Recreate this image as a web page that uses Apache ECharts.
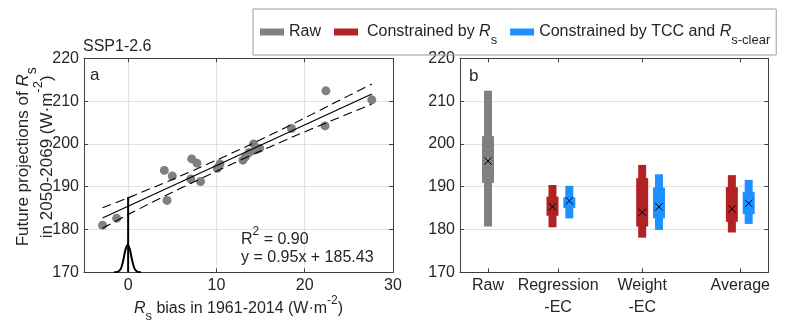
<!DOCTYPE html>
<html>
<head>
<meta charset="utf-8">
<script src="https://cdn.jsdelivr.net/npm/echarts@6/dist/echarts.min.js"></script>
<style>
  html, body { margin: 0; padding: 0; background: #fff; }
  #chart { width: 794px; height: 327px; }
</style>
</head>
<body>
<div id="chart"></div>
<script>
// ---------- Panel a: historical Rs bias vs. projected Rs (SSP1-2.6) ----------
const biasX = [-2.9, -1.3, 4.1, 4.4, 5.0, 7.1, 7.2, 7.8, 8.2, 10.1, 10.4, 13.0, 13.3, 13.7, 14.2, 14.5, 14.9, 18.5, 22.3, 22.4, 27.6];
const projY = [181.0, 182.6, 193.8, 186.8, 192.5, 191.8, 196.5, 195.5, 191.2, 194.3, 195.3, 196.2, 197.0, 198.0, 200.0, 198.7, 199.0, 203.6, 204.2, 212.4, 210.3];

// fitted regression
const fitSlope = 0.95;
const fitIntercept = 185.43;
const fitR2 = '0.90';

// confidence band of the fit
const bandX = [-2.9, 0, 5, 10, 14, 18.5, 23, 27.6];
const bandUpper = [185.1, 187.4, 191.7, 196.2, 200.0, 204.5, 209.2, 214.0];
const bandLower = [180.3, 183.5, 188.7, 193.6, 197.4, 201.5, 205.4, 209.3];

// observed-bias distribution (PDF drawn on the bottom axis)
const pdfX = [-1.6, -1.2, -0.9, -0.7, -0.5, -0.3, -0.05, 0.2, 0.4, 0.6, 0.8, 1.1, 1.45];
const pdfY = [170.0, 170.1, 170.6, 171.6, 173.3, 175.3, 176.4, 175.3, 173.3, 171.6, 170.6, 170.1, 170.0];
const obsX = 0;
const obsTop = 187.6;

const xTicksA = [0, 10, 20, 30];

// ---------- Panel b: raw vs. constrained projections ----------
const catPos = [1, 3.5, 6.5, 10];
const catNames = ['Raw', 'Regression\n-EC', 'Weight\n-EC', 'Average'];

// position, outer range, inner range and mean of each box
const rawX = [1.0];
const rawOuterLo = [180.7], rawOuterHi = [212.4];
const rawInnerLo = [190.9], rawInnerHi = [201.8];
const rawMean = [196.0];

const rsX = [3.3, 6.5, 9.7];
const rsOuterLo = [180.5, 178.1, 179.3], rsOuterHi = [190.4, 195.1, 192.7];
const rsInnerLo = [183.2, 180.7, 181.8], rsInnerHi = [187.7, 192.0, 189.9];
const rsMean = [185.3, 184.0, 184.8];

const tccX = [3.9, 7.1, 10.3];
const tccOuterLo = [182.6, 179.9, 181.3], tccOuterHi = [190.2, 192.9, 191.6];
const tccInnerLo = [185.0, 182.6, 183.6], tccInnerHi = [187.5, 189.8, 188.8];
const tccMean = [186.7, 185.3, 186.1];

const yTicksMin = 170, yTicksMax = 220, yStep = 10;

// ---------- styling ----------
const FONT = 'Liberation Sans';
const TXT = '#262626';
const AXIS = '#404040';
const GRID = '#e2e2e2';
const GRAY = '#808080';
const RED = '#b22222';
const BLUE = '#1e90ff';

// rich-text styles for plain, italic, subscript and superscript runs
function richSet(lh, size) {
  const fs = size || 16;
  const small = Math.round(fs * 0.8);
  const base = { fontFamily: FONT, color: TXT, lineHeight: lh, fontWeight: 'normal' };
  return {
    n:   Object.assign({ fontSize: fs }, base),
    np:  Object.assign({ fontSize: fs, padding: [0, 0, 0, 4] }, base),
    it:  Object.assign({ fontSize: fs, fontStyle: 'italic' }, base),
    sub: Object.assign({ fontSize: small, padding: [Math.round(fs * 1.05), 0, 0, 0] }, base),
    sup: Object.assign({ fontSize: small - 1, padding: [0, 0, Math.round(fs), 0] }, base)
  };
}

function zipRows(xs, a, b, c, d, e) {
  return xs.map((x, i) => [x, a[i], b[i], c[i], d[i], e[i]]);
}

function renderBox(params, api) {
  const x = api.value(0);
  const lo = api.coord([x, api.value(1)]);
  const hi = api.coord([x, api.value(2)]);
  const ilo = api.coord([x, api.value(3)]);
  const ihi = api.coord([x, api.value(4)]);
  const m = api.coord([x, api.value(5)]);
  const color = api.visual('color');
  const ow = 8, iw = 12, c = 3.7;
  return {
    type: 'group',
    children: [
      { type: 'rect', shape: { x: lo[0] - ow / 2, y: hi[1], width: ow, height: lo[1] - hi[1] }, style: { fill: color } },
      { type: 'rect', shape: { x: ilo[0] - iw / 2, y: ihi[1], width: iw, height: ilo[1] - ihi[1] }, style: { fill: color } },
      { type: 'line', shape: { x1: m[0] - c, y1: m[1] - c, x2: m[0] + c, y2: m[1] + c }, style: { stroke: '#000', lineWidth: 1 } },
      { type: 'line', shape: { x1: m[0] - c, y1: m[1] + c, x2: m[0] + c, y2: m[1] - c }, style: { stroke: '#000', lineWidth: 1 } }
    ]
  };
}

const tickStyle = { show: true, inside: true, length: 4, lineStyle: { color: AXIS, width: 1 } };
const lineStyleAxis = { show: true, onZero: false, lineStyle: { color: AXIS, width: 1 } };
const labelBase = { color: TXT, fontFamily: FONT, fontSize: 16 };

function yAxisPair(gridIndex, withVerticalName) {
  const left = {
    type: 'value', gridIndex, position: 'left',
    min: yTicksMin, max: yTicksMax, interval: yStep,
    axisLine: lineStyleAxis, axisTick: tickStyle,
    axisLabel: Object.assign({ margin: 5 }, labelBase),
    splitLine: { show: true, lineStyle: { color: GRID, width: 1 } }
  };
  if (withVerticalName) {
    left.name = '{n|Future projections of }{it|R}{sub|s}\n{n|in 2050-2069 (W·m}{sup|-2}{n|)}';
    left.nameLocation = 'middle';
    left.nameGap = 25;
    left.nameMoveOverlap = false;
    left.nameTextStyle = { rich: richSet(24, 17), fontFamily: FONT, fontSize: 17, color: TXT, padding: [0, 0, 0, 17] };
  }
  const right = {
    type: 'value', gridIndex, position: 'right',
    min: yTicksMin, max: yTicksMax, interval: yStep,
    axisLine: lineStyleAxis, axisTick: tickStyle,
    axisLabel: { show: false }, splitLine: { show: false }
  };
  return [left, right];
}

const slopeLabel = '{n|y = ' + fitSlope.toFixed(2) + 'x + ' + fitIntercept.toFixed(2) + '}';
const fitXs = [Math.min(...biasX), Math.max(...biasX)];
const plainTitle = { fontFamily: FONT, fontSize: 16, fontWeight: 'normal', color: TXT };

const option = {
  animation: false,
  backgroundColor: '#fff',
  textStyle: { fontFamily: FONT },
  title: [
    { text: 'SSP1-2.6', left: 83, top: 39, padding: 0, textStyle: plainTitle },
    { text: 'a', left: 90, top: 67, padding: 0, textStyle: Object.assign({}, plainTitle, { fontSize: 17 }) },
    { text: 'b', left: 469, top: 68, padding: 0, textStyle: Object.assign({}, plainTitle, { fontSize: 17 }) },
    { text: '{n|R}{sup|2}{n| = ' + fitR2 + '}\n' + slopeLabel, left: 241, top: 231, padding: 0,
      textStyle: Object.assign({ rich: richSet(18) }, plainTitle) }
  ],
  legend: {
    data: ['Raw', 'Constrained by Rs', 'Constrained by TCC and Rs-clear'],
    left: 253, top: 9,
    padding: [8, 6, 8, 7],
    itemGap: 13, itemWidth: 24, itemHeight: 7,
    icon: 'rect',
    borderColor: '#9a9a9a', borderWidth: 1,
    selectedMode: false,
    formatter: function (name) {
      if (name === 'Raw') return '{n|Raw}';
      if (name === 'Constrained by Rs') return '{np|Constrained by }{it|R}{sub|s}';
      return '{n|Constrained by TCC and }{it|R}{sub|s-clear}';
    },
    textStyle: { rich: richSet(18), fontFamily: FONT, fontSize: 16, color: TXT }
  },
  grid: [
    { left: 84, right: 401, top: 58.3, bottom: 54.7, outerBoundsMode: 'none' },
    { left: 460, right: 25.7, top: 58.3, bottom: 54.7, outerBoundsMode: 'none' }
  ],
  xAxis: [
    {
      type: 'value', gridIndex: 0, position: 'bottom', min: -5, max: 30,
      axisLine: lineStyleAxis,
      axisTick: Object.assign({ customValues: xTicksA }, tickStyle),
      axisLabel: Object.assign({ customValues: xTicksA, margin: 2, lineHeight: 22 }, labelBase),
      splitLine: { show: true, lineStyle: { color: GRID, width: 1 } },
      name: '{it|R}{sub|s}{n| bias in 1961-2014 (W·m}{sup|-2}{n|)}',
      nameLocation: 'middle', nameGap: 27, nameMoveOverlap: false,
      nameTextStyle: { rich: richSet(18), fontFamily: FONT, fontSize: 16, color: TXT }
    },
    {
      type: 'value', gridIndex: 0, position: 'top', min: -5, max: 30,
      axisLine: lineStyleAxis,
      axisTick: Object.assign({ customValues: xTicksA }, tickStyle),
      axisLabel: { show: false }, splitLine: { show: false }
    },
    {
      type: 'value', gridIndex: 1, position: 'bottom', min: 0, max: 11,
      axisLine: lineStyleAxis,
      axisTick: Object.assign({ customValues: catPos }, tickStyle),
      axisLabel: Object.assign({
        customValues: catPos, margin: 2, lineHeight: 22,
        formatter: v => catNames[catPos.indexOf(v)]
      }, labelBase),
      splitLine: { show: false }
    },
    {
      type: 'value', gridIndex: 1, position: 'top', min: 0, max: 11,
      axisLine: lineStyleAxis,
      axisTick: Object.assign({ customValues: catPos }, tickStyle),
      axisLabel: { show: false }, splitLine: { show: false }
    }
  ],
  yAxis: [].concat(yAxisPair(0, true), yAxisPair(1, false)),
  series: [
    {
      name: 'models', type: 'scatter', xAxisIndex: 0, yAxisIndex: 0,
      symbolSize: 9, itemStyle: { color: GRAY, opacity: 1 },
      data: biasX.map((x, i) => [x, projY[i]]), z: 2
    },
    {
      name: 'fit', type: 'line', xAxisIndex: 0, yAxisIndex: 0, symbol: 'none',
      lineStyle: { color: '#000', width: 1.2 },
      data: fitXs.map(x => [x, fitSlope * x + fitIntercept]), z: 3
    },
    {
      name: 'upper', type: 'line', xAxisIndex: 0, yAxisIndex: 0, symbol: 'none', smooth: 0.3,
      lineStyle: { color: '#000', width: 1.1, type: [9, 5] },
      data: bandX.map((x, i) => [x, bandUpper[i]]), z: 3
    },
    {
      name: 'lower', type: 'line', xAxisIndex: 0, yAxisIndex: 0, symbol: 'none', smooth: 0.3,
      lineStyle: { color: '#000', width: 1.1, type: [9, 5] },
      data: bandX.map((x, i) => [x, bandLower[i]]), z: 3
    },
    {
      name: 'pdf', type: 'line', xAxisIndex: 0, yAxisIndex: 0, symbol: 'none', smooth: 0.4,
      lineStyle: { color: '#000', width: 2 },
      data: pdfX.map((x, i) => [x, pdfY[i]]), z: 4
    },
    {
      name: 'obs', type: 'line', xAxisIndex: 0, yAxisIndex: 0, symbol: 'none',
      lineStyle: { color: '#000', width: 2 },
      data: [[obsX, yTicksMin], [obsX, obsTop]], z: 4
    },
    {
      name: 'Raw', type: 'custom', xAxisIndex: 2, yAxisIndex: 2,
      itemStyle: { color: GRAY }, renderItem: renderBox,
      encode: { x: 0, y: [1, 2, 3, 4, 5] },
      data: zipRows(rawX, rawOuterLo, rawOuterHi, rawInnerLo, rawInnerHi, rawMean)
    },
    {
      name: 'Constrained by Rs', type: 'custom', xAxisIndex: 2, yAxisIndex: 2,
      itemStyle: { color: RED }, renderItem: renderBox,
      encode: { x: 0, y: [1, 2, 3, 4, 5] },
      data: zipRows(rsX, rsOuterLo, rsOuterHi, rsInnerLo, rsInnerHi, rsMean)
    },
    {
      name: 'Constrained by TCC and Rs-clear', type: 'custom', xAxisIndex: 2, yAxisIndex: 2,
      itemStyle: { color: BLUE }, renderItem: renderBox,
      encode: { x: 0, y: [1, 2, 3, 4, 5] },
      data: zipRows(tccX, tccOuterLo, tccOuterHi, tccInnerLo, tccInnerHi, tccMean)
    }
  ]
};

const chart = echarts.init(document.getElementById('chart'), null, { renderer: 'canvas' });
chart.setOption(option);
</script>
</body>
</html>
